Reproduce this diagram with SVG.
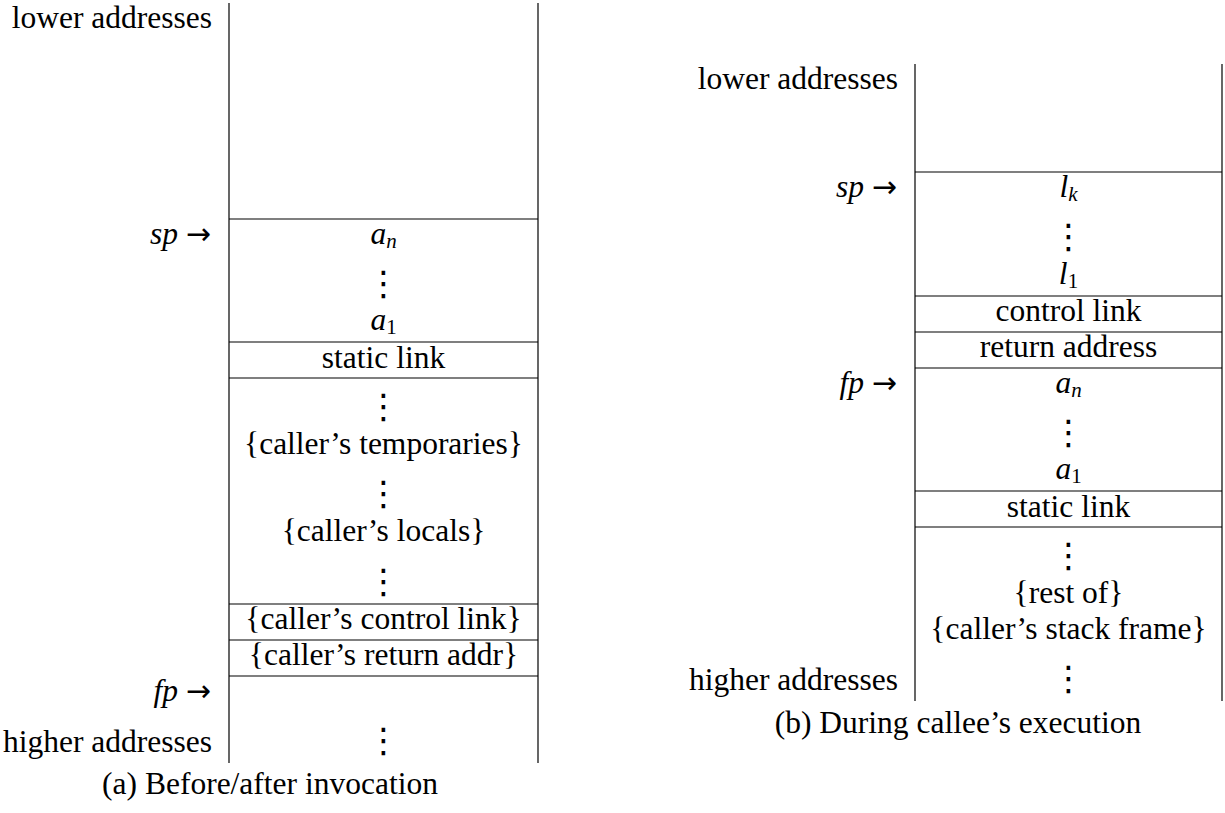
<svg xmlns="http://www.w3.org/2000/svg" width="1225" height="813" viewBox="0 0 1225 813">
<style>
  .t { font-family: "Liberation Serif", "Times New Roman", serif; font-size: 31.5px; fill: #000; }
  .sub { font-size: 21px; }
  .arr { font-family: "DejaVu Sans", sans-serif; font-size: 30px; }
  .c { text-anchor: middle; }
  .r { text-anchor: end; }
  .i { font-style: italic; }
  .v { font-family: "DejaVu Sans", sans-serif; font-size: 34px; fill: #000; text-anchor: middle; }
  .rule { stroke: #000; stroke-width: 1.2; fill: none; }
</style>
<rect width="1225" height="813" fill="#fff"/>

<g id="stack-a">
  <g id="a-frame">
    <line class="rule" x1="229" y1="3" x2="229" y2="763"/>
    <line class="rule" x1="538" y1="3" x2="538" y2="763"/>
    <line class="rule" x1="229" y1="219" x2="538" y2="219"/>
    <line class="rule" x1="229" y1="342" x2="538" y2="342"/>
    <line class="rule" x1="229" y1="378" x2="538" y2="378"/>
    <line class="rule" x1="229" y1="604" x2="538" y2="604"/>
    <line class="rule" x1="229" y1="640" x2="538" y2="640"/>
    <line class="rule" x1="229" y1="676" x2="538" y2="676"/>
  </g>
  <g id="a-labels">
    <text class="t r" x="212" y="28">lower addresses</text>
    <text class="t r" x="211" y="244"><tspan class="i">sp</tspan> <tspan class="arr">→</tspan></text>
    <text class="t r" x="211" y="701"><tspan class="i">fp</tspan> <tspan class="arr">→</tspan></text>
    <text class="t r" x="212" y="752">higher addresses</text>
  </g>
  <g id="a-args">
    <text class="t c" x="383.5" y="244"><tspan class="i">a</tspan><tspan class="sub i" dy="4">n</tspan></text>
    <text class="v" x="383.5" y="295">⋮</text>
    <text class="t c" x="383.5" y="330"><tspan class="i">a</tspan><tspan class="sub" dy="4">1</tspan></text>
  </g>
  <g id="a-static-link">
    <text class="t c" x="383.5" y="368">static link</text>
  </g>
  <g id="a-caller-frame">
    <text class="v" x="383.5" y="418">⋮</text>
    <text class="t c" x="383.5" y="454">{caller’s temporaries}</text>
    <text class="v" x="383.5" y="505">⋮</text>
    <text class="t c" x="383.5" y="541">{caller’s locals}</text>
    <text class="v" x="383.5" y="593">⋮</text>
  </g>
  <g id="a-control-link">
    <text class="t c" x="383.5" y="629">{caller’s control link}</text>
  </g>
  <g id="a-return-addr">
    <text class="t c" x="383.5" y="665">{caller’s return addr}</text>
  </g>
  <g id="a-rest">
    <text class="v" x="383.5" y="752">⋮</text>
  </g>
  <text class="t c" x="270" y="794">(a) Before/after invocation</text>
</g>

<g id="stack-b">
  <g id="b-frame">
    <line class="rule" x1="915" y1="64" x2="915" y2="701"/>
    <line class="rule" x1="1222" y1="64" x2="1222" y2="701"/>
    <line class="rule" x1="915" y1="172" x2="1222" y2="172"/>
    <line class="rule" x1="915" y1="296" x2="1222" y2="296"/>
    <line class="rule" x1="915" y1="332" x2="1222" y2="332"/>
    <line class="rule" x1="915" y1="368" x2="1222" y2="368"/>
    <line class="rule" x1="915" y1="491" x2="1222" y2="491"/>
    <line class="rule" x1="915" y1="527" x2="1222" y2="527"/>
  </g>
  <g id="b-labels">
    <text class="t r" x="898" y="89">lower addresses</text>
    <text class="t r" x="897" y="197"><tspan class="i">sp</tspan> <tspan class="arr">→</tspan></text>
    <text class="t r" x="897" y="393"><tspan class="i">fp</tspan> <tspan class="arr">→</tspan></text>
    <text class="t r" x="898" y="690">higher addresses</text>
  </g>
  <g id="b-locals">
    <text class="t c" x="1068.5" y="197"><tspan class="i">l</tspan><tspan class="sub i" dy="4">k</tspan></text>
    <text class="v" x="1068.5" y="248">⋮</text>
    <text class="t c" x="1068.5" y="284"><tspan class="i">l</tspan><tspan class="sub" dy="4">1</tspan></text>
  </g>
  <g id="b-control-link">
    <text class="t c" x="1068.5" y="321">control link</text>
  </g>
  <g id="b-return-address">
    <text class="t c" x="1068.5" y="357">return address</text>
  </g>
  <g id="b-args">
    <text class="t c" x="1068.5" y="393"><tspan class="i">a</tspan><tspan class="sub i" dy="4">n</tspan></text>
    <text class="v" x="1068.5" y="444">⋮</text>
    <text class="t c" x="1068.5" y="479"><tspan class="i">a</tspan><tspan class="sub" dy="4">1</tspan></text>
  </g>
  <g id="b-static-link">
    <text class="t c" x="1068.5" y="517">static link</text>
  </g>
  <g id="b-caller-frame">
    <text class="v" x="1068.5" y="567">⋮</text>
    <text class="t c" x="1068.5" y="603">{rest of}</text>
    <text class="t c" x="1068.5" y="639">{caller’s stack frame}</text>
    <text class="v" x="1068.5" y="690">⋮</text>
  </g>
  <text class="t c" x="958" y="733">(b) During callee’s execution</text>
</g>
</svg>
